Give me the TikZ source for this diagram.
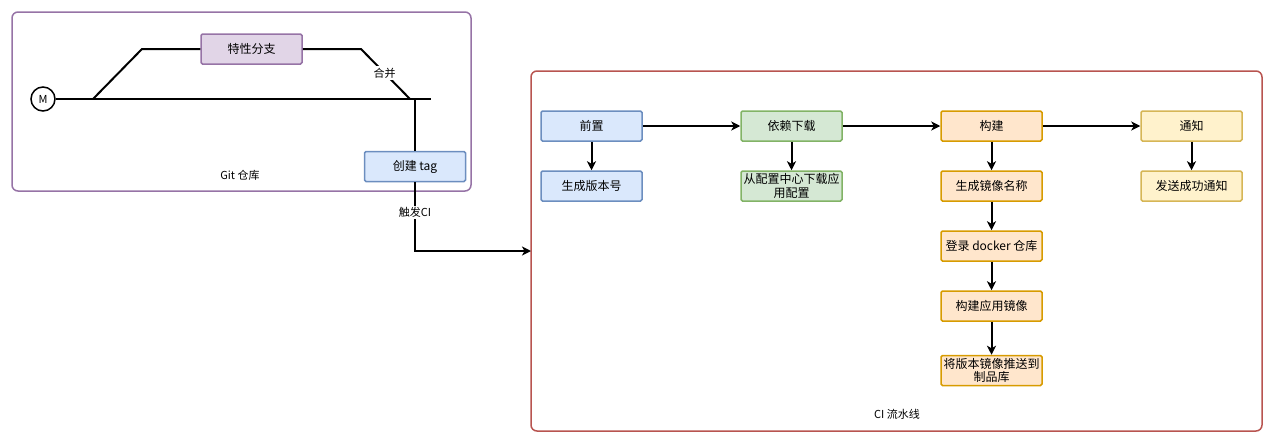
\documentclass[tikz,border=0pt]{standalone}
\usepackage{fontspec}
\setmainfont{Noto Sans CJK SC}
\usetikzlibrary{arrows.meta}
\definecolor{purpS}{HTML}{9673A6}
\definecolor{purpF}{HTML}{E1D5E7}
\definecolor{blueS}{HTML}{6C8EBF}
\definecolor{blueF}{HTML}{DAE8FC}
\definecolor{greenS}{HTML}{82B366}
\definecolor{greenF}{HTML}{D5E8D4}
\definecolor{orS}{HTML}{D79B00}
\definecolor{orF}{HTML}{FFE6CC}
\definecolor{yeS}{HTML}{D6B656}
\definecolor{yeF}{HTML}{FFF2CC}
\definecolor{redS}{HTML}{B85450}
\tikzset{
  box/.style={draw, line width=1.5pt, rounded corners=1.5pt, minimum width=101pt, minimum height=30pt, inner sep=1pt, align=center, font=\fontsize{12}{13.5}\selectfont},
  bluebox/.style={box, draw=blueS, fill=blueF},
  greenbox/.style={box, draw=greenS, fill=greenF},
  orbox/.style={box, draw=orS, fill=orF},
  yebox/.style={box, draw=yeS, fill=yeF},
  purpbox/.style={box, draw=purpS, fill=purpF},
  container/.style={line width=1.5pt, rounded corners=6pt},
  conn/.style={line width=2pt, -{Stealth[length=9pt,width=9pt,inset=2.5pt]}},
  gline/.style={line width=2pt},
  lbl/.style={fill=white, inner sep=1.5pt, font=\fontsize{11}{12}\selectfont},
  captxt/.style={font=\fontsize{11}{12}\selectfont}
}
\begin{document}
\begin{tikzpicture}[x=1pt,y=-1pt]
\useasboundingbox (0,0) rectangle (1272,442);
% containers
\draw[container, draw=purpS] (12,12) rectangle (471,191);
\draw[container, draw=redS] (531,71) rectangle (1262,431);
\node[captxt] (gitlbl) at (240,175) {Git 仓库};
\node[captxt] (cilbl) at (897,414) {CI 流水线};
% git graph
\node[draw, circle, line width=1.5pt, minimum size=24pt, inner sep=0pt, font=\fontsize{11}{12}\selectfont] (m) at (43,99) {M};
\coordinate (mainend) at (431,99);
\coordinate (bstart) at (93,99);
\coordinate (bup) at (142,49);
\coordinate (bdown) at (361,49);
\coordinate (bmerge) at (410,99);
\node[purpbox] (feat) at (251.5,49) {特性分支};
\node[bluebox] (tag) at (415,166.5) {创建 tag};
\coordinate (tagtop) at (tag.north |- mainend);
\draw[gline] (m.east) -- (mainend);
\draw[gline] (bstart) -- (bup) -- (feat.west);
\draw[gline] (feat.east) -- (bdown) -- node[lbl, pos=0.48] {合并} (bmerge);
\draw[gline] (tagtop) -- (tag.north);
% CI boxes
\node[bluebox] (pre) at (591.5,126) {前置};
\node[bluebox] (ver) at (591.5,186) {生成版本号};
\node[greenbox] (dep) at (791.5,126) {依赖下载};
\node[greenbox] (cfg) at (791.5,186) {从配置中心下载应\\用配置};
\node[orbox] (build) at (991.5,126) {构建};
\node[orbox] (img) at (991.5,186) {生成镜像名称};
\node[orbox] (login) at (991.5,246) {登录 docker 仓库};
\node[orbox] (bimg) at (991.5,306) {构建应用镜像};
\node[orbox] (push) at (991.5,370.5) {将版本镜像推送到\\制品库};
\node[yebox] (notify) at (1191.5,126) {通知};
\node[yebox] (ok) at (1191.5,186) {发送成功通知};
% trigger
\coordinate (trig) at (531,251);
\draw[conn] (tag.south) -- node[lbl, pos=0.44] {触发CI} (tag.south |- trig) -- (trig);
% arrows
\draw[conn] (pre) -- (dep);
\draw[conn] (dep) -- (build);
\draw[conn] (build) -- (notify);
\draw[conn] (pre) -- (ver);
\draw[conn] (dep) -- (cfg);
\draw[conn] (build) -- (img);
\draw[conn] (img) -- (login);
\draw[conn] (login) -- (bimg);
\draw[conn] (bimg) -- (push);
\draw[conn] (notify) -- (ok);
\end{tikzpicture}
\end{document}
